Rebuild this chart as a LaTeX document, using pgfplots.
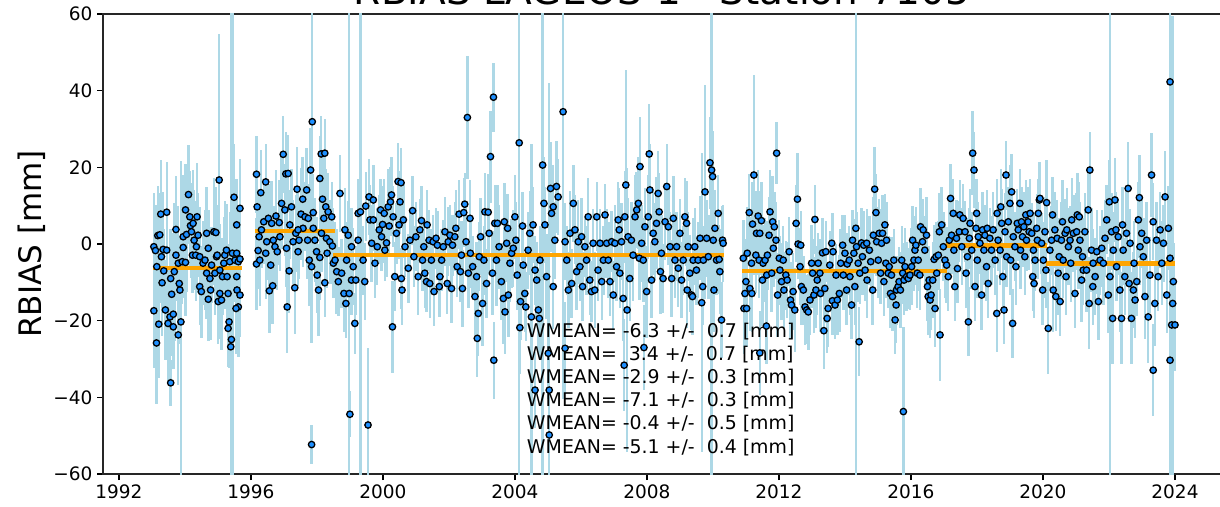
\documentclass[border=0pt]{standalone}
\usepackage{fontspec}
\setmainfont{DejaVu Sans}
\usepackage{pgfplots}
\usepackage{pgfplotstable}
\pgfplotsset{compat=1.18}

\definecolor{barblue}{RGB}{173,216,230}
\definecolor{dotblue}{RGB}{30,144,255}
\definecolor{wmorange}{RGB}{255,165,0}

% RBIAS per pass: epoch [yr], bias [mm], sigma [mm]
\pgfplotstableread{
x y e
1993.06 -0.7 14
1993.11 -1.7 12
1993.06 -17.4 15
1993.14 -25.8 16
1993.21 -20.9 14
1993.15 -5.9 12
1993.18 2.2 13
1993.24 2.4 11
1993.27 7.8 14
1993.45 8.3 13
1993.29 -3.3 12
1993.34 -1.4 15
1993.45 -1.6 12
1993.31 -10.1 14
1993.36 -7.0 11
1993.41 -17.2 13
1993.49 -20.7 15
1993.57 -36.2 6
1993.55 -19.0 12
1993.65 -18.3 14
1993.65 -21.6 11
1993.60 -13.1 16
1993.57 -9.0 13
1993.68 -7.2 18
1993.73 3.8 14
1993.73 -2.9 12
1993.80 -5.0 15
1993.80 -23.7 13
1993.85 -12.0 14
1993.88 -20.3 42
1993.83 -10.3 12
1993.95 -0.9 13
1993.95 1.9 16
1993.92 -4.6 11
1994.02 -4.8 14
1994.02 8.9 12
1994.11 12.9 13
1994.05 2.5 15
1994.15 7.1 12
1994.17 4.8 11
1994.25 5.4 14
1994.20 3.2 12
1994.28 1.0 13
1994.23 -2.9 10
1994.33 -2.9 12
1994.37 7.1 14
1994.40 2.3 11
1994.35 -0.7 12
1994.45 -3.3 13
1994.45 -11.1 10
1994.50 -12.4 12
1994.55 -5.0 11
1994.61 -4.2 13
1994.66 2.8 12
1994.71 -1.1 10
1994.66 -7.6 12
1994.71 -14.4 11
1994.78 -12.0 13
1994.76 -9.0 12
1994.81 -5.5 10
1994.88 3.2 14
1994.94 3.0 12
1994.91 -7.6 11
1994.96 -3.3 12
1994.98 -2.9 13
1995.04 16.7 38
1995.06 -6.8 12
1995.01 -15.0 11
1995.11 -14.6 13
1995.06 -12.9 12
1995.14 -8.5 10
1995.18 -5.0 12
1995.21 -2.9 14
1995.26 -1.6 12
1995.28 -8.5 11
1995.31 -12.9 13
1995.34 -20.3 12
1995.31 -22.0 10
1995.41 -24.9 90
1995.39 -26.8 12
1995.36 -4.6 13
1995.44 -2.4 70
1995.49 12.2 14
1995.57 5.0 12
1995.67 9.3 13
1995.52 -4.2 11
1995.57 -2.4 12
1995.62 -4.6 13
1995.57 -8.5 10
1995.58 -12.0 12
1995.67 -13.3 11
1995.62 -16.4 13
1995.55 -16.8 12
1995.67 -3.9 14
1996.17 18.2 10
1996.19 9.7 12
1996.30 13.4 11
1996.45 16.2 10
1996.17 -5.2 12
1996.22 -1.7 10
1996.25 1.9 11
1996.27 -4.2 12
1996.32 3.7 10
1996.39 5.8 11
1996.45 -2.4 12
1996.48 0.6 10
1996.53 6.7 9
1996.56 -12.2 11
1996.60 -5.5 12
1996.66 -10.9 10
1996.63 5.4 11
1996.68 1.0 9
1996.73 -0.7 10
1996.76 7.3 12
1996.80 -2.0 10
1996.86 5.6 11
1996.88 1.9 9
1996.93 10.6 12
1996.98 23.4 10
1997.06 18.3 11
1997.13 18.4 10
1997.03 8.9 12
1997.08 -1.1 10
1997.10 -16.4 12
1997.16 -7.0 11
1997.23 9.7 10
1997.18 5.0 9
1997.28 0.6 11
1997.33 -11.4 12
1997.36 2.8 10
1997.40 14.3 11
1997.43 -2.0 9
1997.46 1.0 10
1997.52 7.8 12
1997.57 11.7 11
1997.58 4.1 10
1997.64 7.1 9
1997.69 14.1 11
1997.72 1.0 10
1997.77 -4.2 12
1997.81 19.3 11
1997.86 31.9 45
1997.84 -52.3 5
1997.84 -5.9 20
1997.89 8.2 10
1997.94 1.0 11
1997.99 -2.0 9
1998.01 -8.1 10
1998.05 -12.0 12
1998.09 17.1 11
1998.13 23.5 10
1998.24 23.7 9
1998.14 2.8 10
1998.17 11.7 11
1998.21 6.7 9
1998.27 9.7 10
1998.29 1.5 11
1998.31 -2.4 9
1998.34 8.4 10
1998.39 0.6 11
1998.45 7.1 9
1998.47 -0.5 10
1998.24 -10.1 9
1998.09 -3.5 11
1997.89 4.1 10
1997.74 6.7 9
1997.43 3.7 10
1998.50 -5.0 9
1998.55 -4.2 10
1998.60 -7.2 11
1998.65 -9.8 9
1998.70 13.2 10
1998.75 -7.6 9
1998.82 -12.9 10
1998.85 3.7 11
1998.88 -15.5 9
1998.90 -4.2 10
1998.95 2.3 9
1998.98 -12.9 80
1999.00 -44.4 6
1999.05 -0.7 10
1999.05 -9.4 9
1999.10 -5.9 10
1999.15 -20.7 8
1999.18 -9.4 9
1999.25 1.0 10
1999.25 8.0 9
1999.32 8.4 80
1999.40 -4.2 9
1999.45 -9.8 10
1999.48 9.9 9
1999.55 -47.2 20
1999.58 12.3 10
1999.61 6.3 9
1999.66 0.2 10
1999.71 11.5 9
1999.71 6.3 8
1999.76 -5.0 9
1999.83 -0.7 10
1999.89 3.7 9
1999.93 8.9 8
1999.96 1.9 9
1999.99 5.1 10
2000.04 8.0 9
2000.06 -1.6 8
2000.11 0.3 9
2000.16 9.7 10
2000.19 4.7 8
2000.23 11.0 9
2000.26 12.8 10
2000.29 -21.6 12
2000.31 7.1 8
2000.36 -8.5 9
2000.41 2.8 8
2000.46 16.3 10
2000.55 16.0 9
2000.52 11.0 8
2000.49 5.0 9
2000.56 -9.0 8
2000.58 -12.0 9
2000.62 6.3 10
2000.67 -0.7 8
2000.77 -6.3 9
2000.82 1.0 8
2000.90 8.7 9
2000.94 -3.3 8
2001.00 1.9 9
2001.07 -8.5 10
2001.12 3.7 8
2001.17 6.1 9
2001.20 -4.2 8
2001.24 -0.7 7
2001.27 -7.6 9
2001.32 -9.8 8
2001.34 5.0 9
2001.40 1.0 8
2001.42 -10.3 9
2001.47 -4.2 8
2001.52 0.6 7
2001.55 -12.4 9
2001.61 1.5 8
2001.65 -0.3 9
2001.71 -11.1 8
2001.73 -8.5 9
2001.78 -4.2 8
2001.83 -0.7 7
2001.88 3.2 9
2001.95 -10.3 8
2001.98 0.6 9
2002.03 2.3 8
2002.08 -11.6 9
2002.11 -0.3 8
2002.18 1.9 9
2002.21 4.1 10
2002.25 -5.9 8
2002.31 7.8 9
2002.35 -7.2 8
2002.38 -2.9 9
2002.41 -11.6 10
2002.45 8.2 9
2002.48 10.4 8
2002.52 0.6 9
2002.56 33.0 16
2002.59 -7.6 9
2002.64 6.7 10
2002.65 -2.4 9
2002.72 -5.9 8
2002.79 -13.7 10
2002.84 -8.5 9
2002.86 -24.6 10
2002.89 -18.1 11
2002.92 -3.3 9
2002.96 1.9 10
2003.02 -15.5 11
2003.06 -4.2 9
2003.09 8.4 10
2003.14 -10.3 9
2003.19 8.3 10
2003.22 2.8 11
2003.26 22.8 12
2003.35 38.3 9
2003.36 -30.3 10
2003.32 -7.6 11
2003.39 5.4 10
2003.44 -4.2 12
2003.47 5.4 10
2003.52 -0.7 11
2003.59 -9.8 10
2003.65 -14.2 12
2003.68 5.8 10
2003.70 -17.7 11
2003.75 0.2 10
2003.78 4.1 9
2003.80 -13.3 11
2003.85 -5.0 10
2003.90 -2.4 9
2003.95 -1.1 10
2004.00 7.1 11
2004.03 1.0 10
2004.07 -8.1 9
2004.13 26.4 90
2004.15 -21.8 12
2004.17 -15.0 10
2004.23 4.7 9
2004.25 -5.5 11
2004.30 -12.9 10
2004.33 -16.4 9
2004.40 -1.6 10
2004.45 2.8 11
2004.50 -19.0 45
2004.55 5.0 10
2004.61 -6.8 9
2004.66 -9.4 10
2004.71 -17.2 11
2004.74 -19.4 10
2004.76 -4.2 9
2004.84 20.6 85
2004.88 10.6 12
2004.91 5.0 10
2004.96 -8.5 11
2005.01 -28.5 12
2005.04 -38.1 80
2005.04 -49.8 10
2005.08 14.5 12
2005.11 8.0 10
2005.16 9.7 11
2005.21 1.0 10
2005.26 15.0 12
2005.31 12.3 10
2005.16 -11.1 11
2005.46 34.5 75
2005.52 0.6 10
2005.57 -4.2 9
2005.62 -12.0 10
2005.67 2.8 11
2005.72 -10.3 9
2005.77 10.6 10
2005.82 3.7 9
2005.87 -7.2 10
2005.92 0.6 11
2005.97 -5.9 9
2006.02 1.9 10
2006.05 -11.1 9
2006.12 -0.7 8
2006.17 -4.2 9
2006.22 7.1 10
2006.27 -9.4 9
2006.32 -12.4 8
2006.37 0.2 9
2006.42 -12.0 10
2006.48 7.1 9
2006.52 -6.8 8
2006.58 0.2 9
2006.63 -9.8 10
2006.68 -4.2 9
2006.73 7.6 8
2006.78 0.2 9
2006.83 -4.2 10
2006.88 -9.8 9
2006.93 0.6 8
2006.98 -13.3 9
2007.03 0.2 10
2007.08 -5.9 9
2007.13 6.3 10
2007.16 3.7 11
2007.18 -7.6 9
2007.23 0.6 10
2007.28 -14.2 11
2007.33 7.1 12
2007.36 15.4 30
2007.40 -17.2 37
2007.43 1.9 10
2007.48 -9.0 11
2007.53 1.0 10
2007.58 -2.9 12
2007.64 7.1 11
2007.69 8.9 10
2007.74 10.6 12
2007.77 -3.7 11
2007.79 20.2 13
2007.84 0.2 10
2007.89 -4.2 11
2007.94 4.5 10
2007.99 -12.4 12
2008.04 7.1 11
2008.07 23.5 13
2008.09 14.1 12
2008.14 -9.4 10
2008.19 2.8 11
2008.24 0.6 10
2008.29 5.4 12
2008.34 13.2 11
2008.37 8.4 10
2008.41 -7.2 11
2008.44 -2.4 10
2008.49 -9.0 9
2008.55 5.8 10
2008.60 15.0 11
2008.65 4.5 10
2008.70 -0.7 9
2008.75 -9.0 10
2008.80 6.7 11
2008.85 -4.2 10
2008.90 -0.7 9
2008.95 -6.3 10
2009.00 2.8 9
2009.05 -9.4 10
2009.10 -4.2 9
2009.15 7.1 10
2009.20 5.4 11
2009.22 -12.0 10
2009.25 -0.7 9
2009.30 -7.6 10
2009.35 -13.3 9
2009.38 -13.7 10
2009.40 -4.2 11
2009.45 -0.7 10
2009.50 -6.8 9
2009.55 -4.2 10
2009.61 1.5 11
2009.66 -15.3 39
2009.69 -11.1 10
2009.71 -4.2 9
2009.76 13.6 28
2009.81 1.5 10
2009.86 -3.3 11
2009.91 21.2 12
2009.96 19.3 85
2009.99 17.6 12
2010.01 1.0 10
2010.03 -12.0 11
2010.06 4.1 10
2010.11 -4.2 9
2010.16 8.0 10
2010.21 -7.2 11
2010.26 -19.8 10
2010.29 1.0 9
2010.31 0.2 10
2010.19 -4.0 9
2005.52 -27.2 12
2007.91 -27.0 11
2007.31 -31.6 12
2004.61 -38.1 10
2010.92 -3.7 10
2010.97 -12.9 11
2010.94 -16.8 12
2011.02 -16.8 10
2011.00 -9.8 11
2011.04 -2.4 12
2011.10 8.2 10
2011.12 -11.6 11
2011.17 -5.0 12
2011.18 -12.9 10
2011.20 5.2 11
2011.24 18.0 26
2011.30 -2.9 10
2011.32 2.8 11
2011.37 7.3 12
2011.40 -4.2 10
2011.42 2.8 11
2011.47 6.1 10
2011.50 -9.4 12
2011.52 -5.0 10
2011.58 -4.2 11
2011.63 -8.1 10
2011.65 -2.9 9
2011.70 2.3 10
2011.73 8.4 11
2011.78 -7.6 10
2011.81 5.8 12
2011.83 -1.1 10
2011.86 4.5 9
2011.93 23.7 8
2011.91 1.0 10
2011.96 -13.3 11
2012.01 -3.7 10
2012.03 -6.8 9
2012.08 -9.8 10
2012.13 -4.2 9
2012.15 -12.0 10
2012.21 -8.1 9
2012.25 -9.4 10
2012.31 -2.0 9
2012.35 -14.6 10
2012.38 -15.9 9
2012.43 -12.4 10
2012.48 -17.2 11
2012.52 5.4 10
2012.56 11.7 12
2012.58 0.0 9
2012.64 -5.9 10
2012.66 -0.3 9
2012.68 -11.1 10
2012.74 -12.0 9
2012.79 -16.4 10
2012.84 -17.2 9
2012.89 -17.7 10
2012.94 -14.6 9
2012.99 -5.0 10
2013.02 -7.6 9
2013.06 -13.3 10
2013.09 6.4 9
2013.12 -12.0 10
2013.16 -9.4 9
2013.19 -5.0 8
2013.24 -7.6 9
2013.26 -12.9 10
2013.32 -2.3 9
2013.36 -22.6 10
2013.39 -11.6 9
2013.42 -2.0 8
2013.46 -19.4 9
2013.49 -16.8 10
2013.54 -5.5 9
2013.60 0.2 8
2013.62 -14.8 9
2013.64 -2.0 10
2013.70 -15.9 9
2013.73 -8.1 8
2013.77 -14.6 9
2013.83 -12.9 10
2013.87 -5.0 9
2013.93 -0.3 8
2013.95 -8.1 9
2014.00 -2.4 10
2014.05 -12.0 9
2014.07 -5.2 8
2014.13 -4.2 9
2014.15 -8.5 10
2014.20 -15.9 9
2014.23 1.0 8
2014.27 -2.4 9
2014.30 -11.1 10
2014.33 4.1 80
2014.35 -0.7 9
2014.40 -5.0 10
2014.43 -25.5 9
2014.45 -7.6 8
2014.50 0.3 9
2014.53 -3.3 10
2014.57 -0.3 9
2014.61 -6.8 8
2014.66 0.2 9
2014.67 -9.4 10
2014.74 -1.6 9
2014.78 -4.6 8
2014.84 -12.0 9
2014.86 2.3 10
2014.90 14.3 11
2014.94 8.2 10
2014.96 0.6 9
2015.01 -4.2 10
2015.04 2.8 9
2015.08 -7.6 8
2015.11 0.2 9
2015.14 2.8 10
2015.18 -9.8 9
2015.21 5.0 8
2015.24 -5.0 9
2015.26 1.0 10
2015.31 -7.6 9
2015.34 -5.9 8
2015.38 -12.9 9
2015.41 -8.1 10
2015.44 -13.7 9
2015.48 -4.2 8
2015.52 -19.8 9
2015.55 -15.9 10
2015.56 -12.0 9
2015.61 -11.1 8
2015.64 -9.8 9
2015.68 -12.0 10
2015.72 -4.2 9
2015.75 -7.6 8
2015.77 -43.7 22
2015.79 -9.4 9
2015.82 -5.9 10
2015.87 -8.5 9
2015.92 -9.0 8
2015.97 -8.1 9
2016.02 -5.9 10
2016.05 1.0 9
2016.09 -4.2 8
2016.12 -1.6 9
2016.15 -0.3 10
2016.19 -7.6 9
2016.22 -4.2 8
2016.27 -8.1 9
2016.29 4.5 10
2016.35 0.6 9
2016.37 3.7 8
2016.42 -1.6 9
2016.47 2.3 10
2016.50 -11.1 9
2016.52 -13.7 10
2016.55 -9.4 9
2016.58 -14.6 10
2016.61 -13.3 9
2016.66 -9.4 10
2016.70 -4.0 9
2016.73 -16.8 10
2016.76 -3.3 9
2016.78 -7.6 10
2016.83 -2.9 9
2016.86 3.2 10
2016.88 -23.7 12
2016.93 5.0 10
2016.98 -0.7 9
2017.03 -4.2 10
2011.62 -21.4 10
2011.42 -28.4 11
2017.08 -5.5 10
2017.13 -8.5 9
2017.16 1.0 10
2017.20 11.9 9
2017.23 2.3 10
2017.28 8.0 9
2017.30 -1.6 10
2017.33 -11.1 9
2017.38 1.5 10
2017.41 -6.4 9
2017.46 3.2 8
2017.48 7.6 9
2017.54 -0.7 10
2017.58 6.7 9
2017.64 3.2 8
2017.67 -7.6 9
2017.71 -3.3 10
2017.74 -20.3 9
2017.77 1.5 8
2017.79 5.4 9
2017.84 -1.6 10
2017.87 23.7 11
2017.91 19.3 10
2017.94 -11.1 9
2017.97 4.1 8
2017.99 8.0 9
2018.01 -4.2 10
2018.04 1.9 9
2018.09 0.2 8
2018.14 -13.3 9
2018.17 3.7 10
2018.21 -1.6 9
2018.24 2.3 8
2018.29 -5.9 9
2018.31 4.1 10
2018.34 -10.3 9
2018.39 1.5 8
2018.44 -1.6 9
2018.49 3.7 10
2018.55 -4.2 9
2018.60 -18.1 10
2018.61 8.0 9
2018.64 1.0 8
2018.70 -1.6 9
2018.72 9.7 10
2018.75 5.4 9
2018.78 -8.5 8
2018.82 -17.2 9
2018.85 3.2 10
2018.88 18.0 9
2018.90 -3.3 8
2018.95 5.8 9
2019.00 10.6 10
2019.02 -4.2 9
2019.05 13.6 10
2019.08 -20.7 9
2019.10 1.9 8
2019.15 -0.7 9
2019.18 -5.9 10
2019.22 5.4 9
2019.25 3.7 8
2019.30 10.6 9
2019.32 -1.6 10
2019.35 5.8 9
2019.38 1.9 8
2019.42 4.5 9
2019.45 -3.3 10
2019.48 7.6 9
2019.50 1.0 8
2019.55 5.8 9
2019.58 3.2 10
2019.61 8.0 9
2019.66 2.8 8
2019.69 -8.5 9
2019.71 -1.6 10
2019.73 -10.3 9
2019.76 -4.2 8
2019.81 4.1 9
2019.83 1.0 10
2019.86 8.0 9
2019.89 11.5 10
2019.91 11.9 9
2019.96 0.2 8
2019.99 -12.0 9
2020.01 -4.2 10
2020.06 3.2 9
2020.09 -6.8 10
2020.11 10.8 11
2020.16 -22.0 12
2020.21 -1.6 10
2020.26 1.0 9
2020.29 7.6 10
2020.31 -12.0 11
2020.36 3.7 10
2020.39 -13.7 9
2020.43 1.5 10
2020.46 -7.6 11
2020.49 -3.3 10
2020.52 -15.0 9
2020.56 1.0 10
2020.59 5.8 11
2020.61 -4.2 10
2020.67 2.8 9
2020.70 -8.5 10
2020.72 3.7 11
2020.77 -0.7 10
2020.82 1.0 9
2020.84 -5.0 10
2020.87 6.3 11
2020.92 2.8 10
2020.97 -12.9 9
2021.02 3.2 10
2021.04 7.6 11
2021.07 -1.6 10
2021.10 7.1 9
2021.12 1.0 10
2021.17 -9.4 11
2021.20 -3.3 10
2021.22 -6.8 9
2021.27 3.2 10
2021.32 -6.8 11
2021.37 8.9 10
2021.40 -15.5 12
2021.42 19.3 10
2021.47 -1.6 11
2021.51 -11.1 10
2021.52 -5.0 9
2021.58 -8.5 10
2021.63 -2.0 11
2021.68 -15.0 10
2021.73 -4.2 9
2021.78 -1.1 10
2021.83 -5.0 11
2021.88 1.5 10
2021.93 6.3 9
2021.98 -13.3 10
2022.01 11.0 11
2022.03 -8.5 80
2022.08 3.2 10
2022.11 -19.4 12
2022.13 -1.6 10
2022.18 11.5 11
2022.21 3.7 10
2022.23 -5.9 9
2022.28 1.9 10
2022.33 -12.0 11
2022.38 -19.4 12
2022.41 5.0 10
2022.43 -1.6 9
2022.48 -8.5 10
2022.53 2.8 11
2022.58 14.5 12
2022.61 -10.3 10
2022.64 0.2 9
2022.68 -19.4 12
2022.74 -12.0 10
2022.76 -5.0 11
2022.79 -14.6 10
2022.84 -9.8 9
2022.89 6.3 10
2022.92 12.1 11
2022.94 -0.7 10
2022.99 2.8 9
2023.04 -3.3 10
2023.09 -13.7 11
2023.14 1.0 10
2023.19 -19.0 12
2023.24 -8.1 10
2023.29 18.0 11
2023.34 5.8 10
2023.34 -32.9 12
2023.39 -15.5 11
2023.44 1.0 10
2023.49 -8.5 9
2023.55 3.7 10
2023.60 -5.0 11
2023.65 0.2 10
2023.70 12.3 12
2023.75 -13.3 10
2023.80 4.1 11
2023.85 -3.7 10
2023.85 42.3 110
2023.85 -30.3 12
2023.90 -21.1 11
2023.93 -15.5 75
2023.95 -9.8 10
2024.00 -21.1 12
}\rbias

\begin{document}
\begin{tikzpicture}
\begin{axis}[
    scale only axis,
    width=1118pt, height=460pt,
    xmin=1991.52, xmax=2025.4,
    ymin=-60, ymax=60,
    enlargelimits=false,
    tick pos=left,
    tick align=outside,
    major tick length=6pt,
    every tick/.style={black, line width=1.3pt},
    axis line style={line width=1.4pt, black!85},
    xtick={1992,1996,2000,2004,2008,2012,2016,2020,2024},
    xticklabels={1992,1996,2000,2004,2008,2012,2016,2020,2024},
    ytick={-60,-40,-20,0,20,40,60},
    yticklabels={−60,−40,−20,0,20,40,60},
    tick label style={font=\fontsize{18.5}{20}\selectfont},
    xticklabel style={yshift=-1pt},
    yticklabel style={xshift=-1pt},
    every axis title/.style={at={(0.5,1)}, anchor=base, yshift=9pt,
        font=\fontsize{39}{42}\selectfont},
    title={RBIAS LAGEOS-1 - Station 7105},
    every axis y label/.style={at={(-0.0546,0.5)}, rotate=90, anchor=base,
        font=\fontsize{31}{34}\selectfont},
    ylabel={RBIAS [mm]},
]
\coordinate (bl) at (rel axis cs:0,0);
\coordinate (tr) at (rel axis cs:1,1);

\addplot[only marks, mark=none,
    error bars/.cd, y dir=both, y explicit, error mark=none,
    error bar style={draw=barblue, line width=2.4pt, solid}]
    table[x=x, y=y, y error=e] {\rbias};

\addplot[wmorange, line width=4.2pt] coordinates {(1993.04,-6.3) (1995.72,-6.3)};
\addplot[wmorange, line width=4.2pt] coordinates {(1996.12,3.4) (1998.55,3.4)};
\addplot[wmorange, line width=4.2pt] coordinates {(1998.50,-2.9) (2010.34,-2.9)};
\addplot[wmorange, line width=4.2pt] coordinates {(2010.89,-7.1) (2017.08,-7.1)};
\addplot[wmorange, line width=4.2pt] coordinates {(2017.06,-0.4) (2020.11,-0.4)};
\addplot[wmorange, line width=4.2pt] coordinates {(2020.09,-5.1) (2024.0,-5.1)};

\addplot[only marks, mark=*, mark size=3.2pt,
    mark options={fill=dotblue, draw=black, line width=1.3pt}]
    table[x=x, y=y] {\rbias};

\begin{scope}[every node/.style={anchor=base west, inner sep=0pt,
        font=\fontsize{18.9}{20}\selectfont}]
\node at (axis cs:2004.36,-24.26) {WMEAN= -6.3 +/-\ \ 0.7 [mm]};
\node at (axis cs:2004.36,-30.32) {WMEAN=\ \ 3.4 +/-\ \ 0.7 [mm]};
\node at (axis cs:2004.36,-36.37) {WMEAN= -2.9 +/-\ \ 0.3 [mm]};
\node at (axis cs:2004.36,-42.42) {WMEAN= -7.1 +/-\ \ 0.3 [mm]};
\node at (axis cs:2004.36,-48.48) {WMEAN= -0.4 +/-\ \ 0.5 [mm]};
\node at (axis cs:2004.36,-54.53) {WMEAN= -5.1 +/-\ \ 0.4 [mm]};
\end{scope}
\end{axis}
\pgfresetboundingbox
\path[use as bounding box] ([shift={(-103pt,-32pt)}]bl) rectangle ([shift={(-1.2pt,14pt)}]tr);
\end{tikzpicture}
\end{document}
